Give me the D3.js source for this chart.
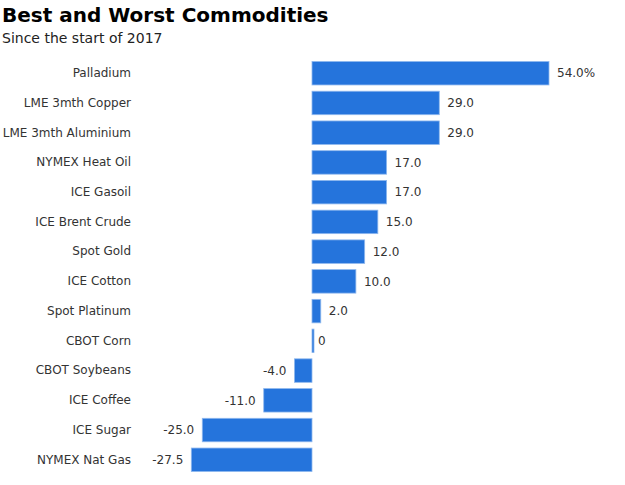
<!DOCTYPE html>
<html><head><meta charset="utf-8">
<script src="https://cdn.jsdelivr.net/npm/d3@7"></script>
<style>body{margin:0;background:#fff;font-family:"DejaVu Sans",Verdana,sans-serif;}</style>
</head><body><svg id="c" width="625" height="485"></svg>
<script>
const categories = ["Palladium","LME 3mth Copper","LME 3mth Aluminium","NYMEX Heat Oil","ICE Gasoil","ICE Brent Crude","Spot Gold","ICE Cotton","Spot Platinum","CBOT Corn","CBOT Soybeans","ICE Coffee","ICE Sugar","NYMEX Nat Gas"];
const values = [54.0,29.0,29.0,17.0,17.0,15.0,12.0,10.0,2.0,0,-4.0,-11.0,-25.0,-27.5];
const valueLabels = ["54.0%","29.0","29.0","17.0","17.0","15.0","12.0","10.0","2.0","0","-4.0","-11.0","-25.0","-27.5"];
const title = "Best and Worst Commodities";
const subtitle = "Since the start of 2017";

const svg = d3.select("#c");
svg.append("text").attr("x",2).attr("y",22).attr("font-size",20).attr("font-weight","bold").attr("fill","#000").text(title);
svg.append("text").attr("x",2).attr("y",43).attr("font-size",14).attr("fill","#222").text(subtitle);

const x = d3.scaleLinear().domain([0,54]).range([312,549]);
const y = d3.scaleBand().domain(categories).range([58.5,474.5]).paddingInner(0.21).paddingOuter(0.1);

const g = svg.append("g");
const data = categories.map((c,i)=>({c,v:values[i],l:valueLabels[i]}));
g.selectAll("rect").data(data).enter().append("rect")
  .attr("x",d=>Math.min(x(d.v),x(0)))
  .attr("width",d=>Math.max(2,Math.abs(x(d.v)-x(0))))
  .attr("y",d=>y(d.c))
  .attr("height",y.bandwidth())
  .attr("fill","#2574dc").attr("stroke","#8fb8ee").attr("stroke-width",0.8);

const yAxis = d3.axisLeft(y).tickSize(0).tickPadding(0);
const ag = svg.append("g").attr("transform","translate(131,0)").call(yAxis);
ag.select(".domain").remove();
ag.selectAll("text").attr("font-size",12).attr("fill","#333").attr("font-family","DejaVu Sans, Verdana, sans-serif");

g.selectAll("text.v").data(data).enter().append("text").attr("class","v")
  .attr("x",d=>d.v<0 ? x(d.v)-8 : Math.max(x(d.v),x(0)+2)+ (d.v===0?4:8))
  .attr("y",d=>y(d.c)+y.bandwidth()/2)
  .attr("dy","0.35em")
  .attr("text-anchor",d=>d.v<0?"end":"start")
  .attr("font-size",12).attr("fill","#333")
  .text(d=>d.l);
</script></body></html>
